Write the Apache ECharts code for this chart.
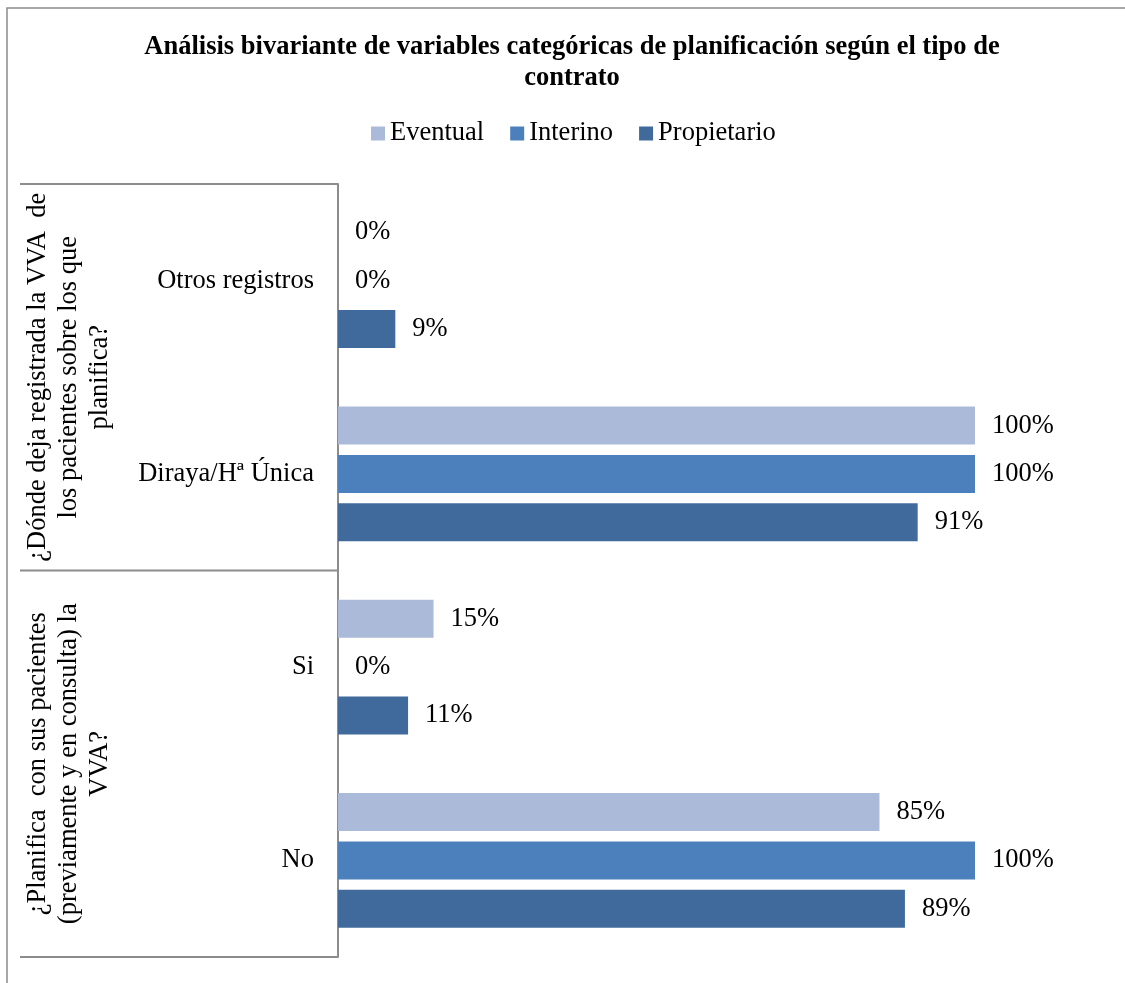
<!DOCTYPE html>
<html>
<head>
<meta charset="utf-8">
<title>Análisis bivariante</title>
<script src="https://cdn.jsdelivr.net/npm/echarts@6/dist/echarts.min.js"></script>
<style>
  html, body { margin: 0; padding: 0; background: #ffffff; }
  #chart { width: 1125px; height: 983px; }
</style>
</head>
<body>
<div id="chart"></div>
<script>
// Categories (top to bottom) and series values in percent
const categories = ['Otros registros', 'Diraya/Hª Única', 'Si', 'No'];
const seriesNames = ['Eventual', 'Interino', 'Propietario'];
const eventual = [0, 100, 15, 85];
const interino = [0, 100, 0, 100];
const propietario = [9, 91, 11, 89];
const groupLabels = [
  '¿Dónde deja registrada la VVA  de\nlos pacientes sobre los que\nplanifica?',
  '¿Planifica  con sus pacientes\n(previamente y en consulta) la\nVVA?'
];
const titleText = 'Análisis bivariante de variables categóricas de planificación según el tipo de\ncontrato';

const colors = ['#abbad8', '#4c80bc', '#406a9b'];
const serif = '"Liberation Serif", "Times New Roman", serif';
const fs = 26.5;
const lineGray = '#8c8c8c';

const chart = echarts.init(document.getElementById('chart'));

const gridTop = 184, gridBottom = 26, gridLeft = 338, gridRight = 150;
const plotH = 983 - gridTop - gridBottom;
const mid = gridTop + plotH / 2;

function makeSeries(name, data, idx) {
  return {
    name: name,
    type: 'bar',
    data: data,
    barWidth: 38,
    barGap: '27%',
    itemStyle: { color: colors[idx] },
    label: {
      show: true,
      position: 'right',
      distance: 17,
      formatter: '{c}%',
      color: '#000',
      fontFamily: serif,
      fontSize: fs
    }
  };
}

chart.setOption({
  animation: false,
  backgroundColor: '#ffffff',
  color: colors,
  title: {
    text: titleText,
    left: 567,
    textAlign: 'center',
    top: 27,
    textStyle: {
      fontFamily: serif,
      fontSize: fs,
      fontWeight: 'bold',
      color: '#000',
      lineHeight: 31
    }
  },
  legend: {
    data: seriesNames,
    top: 115,
    left: 366,
    icon: 'rect',
    itemWidth: 14,
    itemHeight: 14,
    itemGap: 26,
    textStyle: { fontFamily: serif, fontSize: fs, color: '#000' }
  },
  grid: { left: gridLeft, right: gridRight, top: gridTop, bottom: gridBottom, containLabel: false },
  xAxis: {
    type: 'value', min: 0, max: 100, show: false
  },
  yAxis: {
    type: 'category',
    data: categories,
    inverse: true,
    axisLine: { show: true, lineStyle: { color: lineGray, width: 2 } },
    axisTick: { show: false },
    axisLabel: { margin: 24, fontFamily: serif, fontSize: fs, color: '#000' }
  },
  series: [
    makeSeries('Eventual', eventual, 0),
    makeSeries('Interino', interino, 1),
    makeSeries('Propietario', propietario, 2)
  ],
  graphic: [
    // outer frame
    { type: 'rect', shape: { x: 7, y: 8, width: 1200, height: 1100 },
      style: { fill: 'none', stroke: lineGray, lineWidth: 1.5 }, silent: true },
    // category table lines
    { type: 'line', shape: { x1: 20, y1: gridTop, x2: gridLeft, y2: gridTop },
      style: { stroke: lineGray, lineWidth: 2 }, silent: true },
    { type: 'line', shape: { x1: 20, y1: mid, x2: gridLeft, y2: mid },
      style: { stroke: lineGray, lineWidth: 2 }, silent: true },
    { type: 'line', shape: { x1: 20, y1: gridTop + plotH, x2: gridLeft, y2: gridTop + plotH },
      style: { stroke: lineGray, lineWidth: 2 }, silent: true },
    // rotated group labels
    { type: 'text', x: 69, y: (gridTop + mid) / 2, rotation: Math.PI / 2,
      style: { text: groupLabels[0], font: fs + 'px ' + serif, fill: '#000',
               align: 'center', verticalAlign: 'middle', lineHeight: 31 }, silent: true },
    { type: 'text', x: 69, y: (mid + gridTop + plotH) / 2, rotation: Math.PI / 2,
      style: { text: groupLabels[1], font: fs + 'px ' + serif, fill: '#000',
               align: 'center', verticalAlign: 'middle', lineHeight: 31 }, silent: true }
  ]
});
</script>
</body>
</html>
